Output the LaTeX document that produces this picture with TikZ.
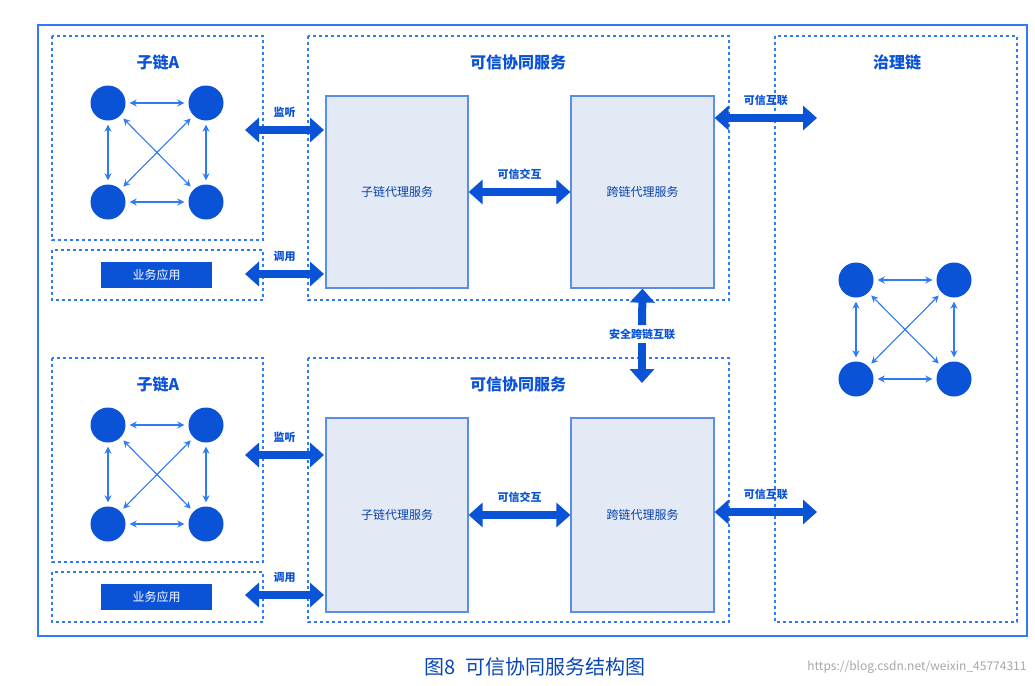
\documentclass[tikz,border=0pt]{standalone}
\usepackage{fontspec}
\setmainfont{Noto Sans CJK SC}
\usetikzlibrary{arrows.meta}
\definecolor{mb}{HTML}{0A52D6}
\definecolor{lb}{HTML}{2F7BF5}
\definecolor{fillb}{HTML}{E3EAF6}
\definecolor{bord}{HTML}{5B8EE8}
\tikzset{
 dbox/.style={draw=lb,dash pattern=on 3pt off 3pt,line width=1.1pt},
 ibox/.style={draw=bord,fill=fillb,line width=1.2pt},
 dot/.style={circle,fill=mb,minimum size=35pt,inner sep=0pt},
 linkarrow/.style={lb,line width=1.1pt,{Stealth[length=7pt,width=7pt]}-{Stealth[length=7pt,width=7pt]},shorten >=4pt,shorten <=4pt},
 big/.style={mb,line width=8pt,{Triangle[length=14pt,width=24pt]}-{Triangle[length=14pt,width=24pt]}},
 bigone/.style={mb,line width=8pt,-{Triangle[length=14pt,width=24pt]}},
 ttl/.style={text=mb,font=\fontsize{16}{16}\selectfont\bfseries},
 lbl/.style={text=mb,font=\fontsize{11}{11}\selectfont\bfseries},
 inl/.style={text=mb!80!black,font=\fontsize{12}{12}\selectfont},
}
\begin{document}
\begin{tikzpicture}[x=1pt,y=-1pt]
\useasboundingbox (0,0) rectangle (1035,685);
\draw[lb,line width=1.4pt] (38,25) rectangle (1027,636);
\foreach \dy in {0,322}{
 \draw[dbox] (52,36+\dy) rectangle (263,240+\dy);
 \draw[dbox] (52,250+\dy) rectangle (263,300+\dy);
 \draw[dbox] (308,36+\dy) rectangle (729,300+\dy);
}
\draw[dbox] (775,36) rectangle (1017,622);
\node[ttl] (t1) at (158,62) {子链A};
\node[ttl] (t2) at (518,62) {可信协同服务};
\node[ttl] (t3) at (897,62) {治理链};
\node[ttl] (t4) at (158,384) {子链A};
\node[ttl] (t5) at (518,384) {可信协同服务};
\node[ibox,minimum width=142pt,minimum height=192pt] (s1) at (397,192) {};
\node[inl] at (s1) {子链代理服务};
\node[ibox,minimum width=143pt,minimum height=192pt] (c1) at (642.5,192) {};
\node[inl] at (c1) {跨链代理服务};
\node[ibox,minimum width=142pt,minimum height=194pt] (s2) at (397,515) {};
\node[inl] at (s2) {子链代理服务};
\node[ibox,minimum width=143pt,minimum height=194pt] (c2) at (642.5,515) {};
\node[inl] at (c2) {跨链代理服务};
\node[fill=mb,text=white,minimum width=111pt,minimum height=26pt,font=\fontsize{12}{12}\selectfont] (a1) at (156.5,275) {业务应用};
\node[fill=mb,text=white,minimum width=111pt,minimum height=26pt,font=\fontsize{12}{12}\selectfont] (a2) at (156.5,597) {业务应用};
\foreach \n/\cx/\cy in {p/108/103,q/108/425,r/856/280}{
 \node[dot] (\n1) at (\cx,\cy) {};
 \node[dot] (\n2) at (\cx+98,\cy) {};
 \node[dot] (\n3) at (\cx,\cy+99) {};
 \node[dot] (\n4) at (\cx+98,\cy+99) {};
 \draw[linkarrow] (\n1) -- (\n2);
 \draw[linkarrow] (\n3) -- (\n4);
 \draw[linkarrow] (\n1) -- (\n3);
 \draw[linkarrow] (\n2) -- (\n4);
 \draw[linkarrow] (\n1) -- (\n4);
 \draw[linkarrow] (\n2) -- (\n3);
}
\coordinate (l1) at (245,130); \coordinate (r1) at (324,130);
\draw[big] (l1) -- node[lbl,above=5pt]{监听} (r1);
\coordinate (l2) at (245,274); \coordinate (r2) at (324,274);
\draw[big] (l2) -- node[lbl,above=5pt]{调用} (r2);
\coordinate (l3) at (245,455); \coordinate (r3) at (324,455);
\draw[big] (l3) -- node[lbl,above=5pt]{监听} (r3);
\coordinate (l4) at (245,595); \coordinate (r4) at (324,595);
\draw[big] (l4) -- node[lbl,above=5pt]{调用} (r4);
\draw[big] (s1.east) -- node[lbl,above=5pt]{可信交互} (c1.west);
\draw[big] (s2.east) -- node[lbl,above=5pt]{可信交互} (c2.west);
\coordinate (g1) at (817,118); \coordinate (g2) at (817,512);
\draw[big] (c1.east|-g1) -- node[lbl,above=5pt]{可信互联} (g1);
\draw[big] (c2.east|-g2) -- node[lbl,above=5pt]{可信互联} (g2);
\node[lbl] (sec) at (642,334) {安全跨链互联};
\draw[bigone] (sec.north) -- (c1.south);
\draw[bigone] (sec.south) -- (642,383);
\node[text=mb!85!black,font=\fontsize{20}{20}\selectfont] (cap) at (535,667) {图8\ \ 可信协同服务结构图};
\node[text=black!35,font=\fontsize{12}{12}\selectfont,anchor=east] (wm) at (1030,667) {https://blog.csdn.net/weixin\_45774311};
\end{tikzpicture}
\end{document}
